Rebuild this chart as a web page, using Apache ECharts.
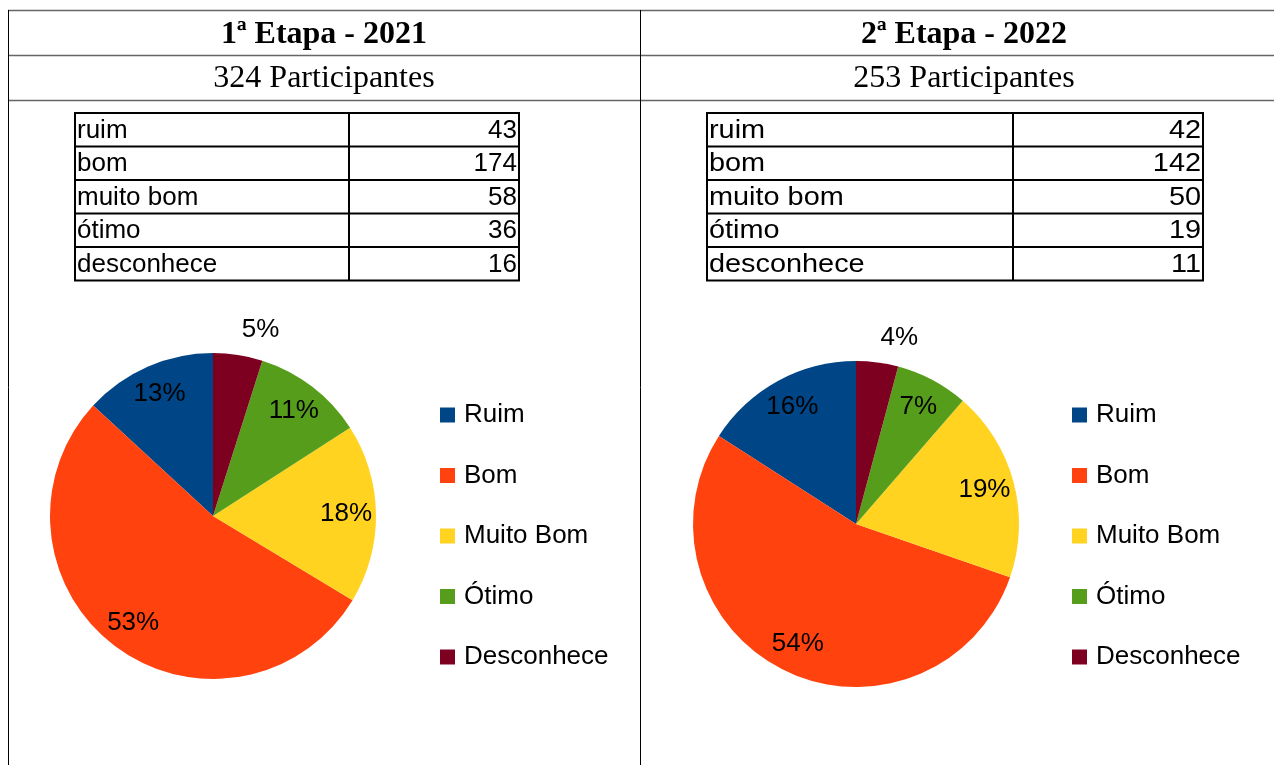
<!DOCTYPE html>
<html>
<head>
<meta charset="utf-8">
<script src="https://cdn.jsdelivr.net/npm/echarts@6/dist/echarts.min.js"></script>
<style>
  html, body { margin: 0; padding: 0; background: #fff; }
  #chart { width: 1274px; height: 765px; }
</style>
</head>
<body>
<div id="chart"></div>
<script>
var stages = ['1ª Etapa - 2021', '2ª Etapa - 2022'];
var participants = [324, 253];
var tableLabels = ['ruim', 'bom', 'muito bom', 'ótimo', 'desconhece'];
var categories = ['Ruim', 'Bom', 'Muito Bom', 'Ótimo', 'Desconhece'];
var values2021 = [43, 174, 58, 36, 16];
var values2022 = [42, 142, 50, 19, 11];
var colors = ['#004586', '#ff420e', '#ffd320', '#579d1c', '#7e0021'];

var stageValues = [values2021, values2022];

// layout of each half of the page
var panels = [
  { x0: 8, x1: 640, table: [75, 349, 519], center: [213, 516], legendLeft: 440, textScale: 1 },
  { x0: 640, x1: 1288, table: [707, 1013, 1203], center: [856, 524], legendLeft: 1072, textScale: 1.11 }
];
var tableTop = 113;
var rowH = 33.5;
var radius = 163;

var chart = echarts.init(document.getElementById('chart'), null, { renderer: 'canvas' });

var graphics = [];

// frame of the document table
[10.5, 55.5, 100.5].forEach(function (y) {
  graphics.push({
    type: 'line',
    shape: { x1: 8, y1: y, x2: 1274, y2: y },
    style: { stroke: '#666', lineWidth: 1.5 }
  });
});
[8.5, 640.5].forEach(function (x) {
  graphics.push({
    type: 'line',
    shape: { x1: x, y1: 10, x2: x, y2: 765 },
    style: { stroke: '#000', lineWidth: 1 }
  });
});

panels.forEach(function (p, i) {
  var mid = (p.x0 + p.x1) / 2;
  graphics.push({
    type: 'text', x: mid, y: 35,
    style: {
      text: stages[i], fill: '#000', align: 'center', verticalAlign: 'middle',
      fontFamily: 'Liberation Serif', fontWeight: 'bold', fontSize: 32
    }
  });
  graphics.push({
    type: 'text', x: mid, y: 79,
    style: {
      text: participants[i] + ' Participantes', fill: '#000', align: 'center', verticalAlign: 'middle',
      fontFamily: 'Liberation Serif', fontSize: 32
    }
  });

  // small data table
  var t = p.table;
  graphics.push({
    type: 'rect',
    shape: { x: t[0], y: tableTop, width: t[2] - t[0], height: rowH * tableLabels.length },
    style: { fill: 'none', stroke: '#000', lineWidth: 2 }
  });
  graphics.push({
    type: 'line',
    shape: { x1: t[1], y1: tableTop, x2: t[1], y2: tableTop + rowH * tableLabels.length },
    style: { stroke: '#000', lineWidth: 2 }
  });
  tableLabels.forEach(function (name, r) {
    if (r > 0) {
      graphics.push({
        type: 'line',
        shape: { x1: t[0], y1: tableTop + r * rowH, x2: t[2], y2: tableTop + r * rowH },
        style: { stroke: '#000', lineWidth: 2 }
      });
    }
    var cy = tableTop + (r + 0.5) * rowH + 1;
    graphics.push({
      type: 'text', x: t[0] + 2, y: cy, scaleX: p.textScale,
      style: { text: name, fill: '#000', align: 'left', verticalAlign: 'middle', fontFamily: 'Liberation Sans', fontSize: 26 }
    });
    graphics.push({
      type: 'text', x: t[2] - 2, y: cy, scaleX: p.textScale,
      style: { text: String(stageValues[i][r]), fill: '#000', align: 'right', verticalAlign: 'middle', fontFamily: 'Liberation Sans', fontSize: 26 }
    });
  });
});

var labelFont = { fontFamily: 'Liberation Sans', fontSize: 26, color: '#000' };

function pieData(values, withLabels) {
  return values.map(function (v, k) {
    var item = { name: categories[k], value: v };
    if (withLabels && k === values.length - 1) {
      // the smallest slice gets its label outside, as in the original
      item.label = { position: 'outside', distanceToLabelLine: 0 };
    }
    return item;
  });
}

var series = [];
panels.forEach(function (p, i) {
  series.push({
    type: 'pie',
    center: p.center,
    radius: radius,
    startAngle: 90,
    clockwise: false,
    avoidLabelOverlap: false,
    label: { show: false },
    labelLine: { show: false },
    itemStyle: { borderWidth: 0 },
    emphasis: { disabled: true },
    data: pieData(stageValues[i], false)
  });
});
// transparent rings that carry the percentage labels
panels.forEach(function (p, i) {
  series.push({
    type: 'pie',
    silent: true,
    center: p.center,
    radius: [97, radius],
    startAngle: 90,
    clockwise: false,
    avoidLabelOverlap: false,
    itemStyle: { color: 'rgba(0,0,0,0)', borderWidth: 0 },
    label: Object.assign({
      show: true,
      position: 'inside',
      formatter: function (params) { return Math.round(params.percent) + '%'; }
    }, labelFont),
    labelLine: { show: false, length: 25, length2: 0 },
    emphasis: { disabled: true },
    data: pieData(stageValues[i], true)
  });
});

var option = {
  animation: false,
  backgroundColor: '#fff',
  color: colors,
  graphic: graphics,
  legend: panels.map(function (p) {
    return {
      orient: 'vertical',
      left: p.legendLeft,
      top: 402,
      padding: 0,
      icon: 'rect',
      itemWidth: 15,
      itemHeight: 15,
      itemGap: 34.5,
      selectedMode: false,
      data: categories,
      textStyle: {
        fontFamily: 'Liberation Sans', fontSize: 26, color: '#000',
        lineHeight: 26, padding: [0, 0, 0, 4]
      }
    };
  }),
  series: series
};

chart.setOption(option);
</script>
</body>
</html>
